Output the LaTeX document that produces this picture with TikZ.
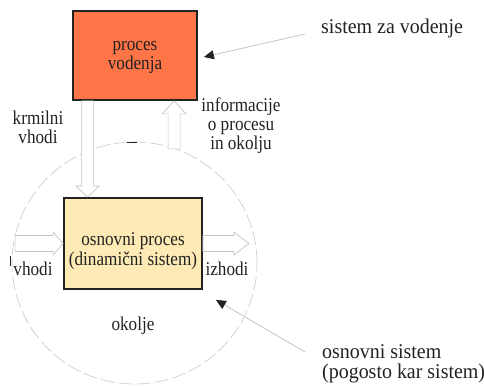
\documentclass[tikz,border=0pt]{standalone}
\usepackage{fontspec}
\setmainfont{Liberation Serif}[FakeStretch=0.88]
\newfontfamily\captionserif{Liberation Serif}[FakeStretch=0.95]
\usetikzlibrary{calc,arrows.meta}
\definecolor{vodfill}{HTML}{FF7547}
\definecolor{procfill}{HTML}{FDEAB4}
\definecolor{ink}{HTML}{222222}
\definecolor{flowgray}{HTML}{C4C4C4}
\definecolor{pointgray}{HTML}{BDBDBD}
\definecolor{ringgray}{HTML}{C8C8C8}

\begin{document}
\begin{tikzpicture}[x=1pt,y=-1pt,
  block/.style={draw=ink, line width=1.8pt, inner sep=0pt},
  % multi-line texts are placed by the baseline of their last line
  smalltext/.style={inner sep=0pt, align=center, anchor=base,
    font=\fontsize{19.5}{19}\selectfont, text=ink},
  bigtext/.style={inner sep=0pt, align=left, anchor=base west,
    font=\captionserif\fontsize{21}{20}\selectfont, text=ink},
  hollow/.style={draw=flowgray, line width=0.7pt, fill=white, line join=miter},
  pointer/.style={draw=pointgray, line width=0.7pt,
    -{Triangle[length=10pt,width=9pt,color=ink]}},
  ring/.style={draw=ringgray, line width=0.6pt, dash pattern=on 14pt off 4pt},
  mark line/.style={draw=ink, line width=0.8pt},
]
\useasboundingbox (0,0) rectangle (484,387);

% environment boundary around the basic system
\draw[ring] (134.5,263) ellipse [x radius=122.5pt, y radius=121pt];

% the two blocks
\node[block, fill=vodfill, minimum width=124pt, minimum height=89pt] (pv) at (135,55.5) {};
\node[block, fill=procfill, minimum width=138pt, minimum height=91pt] (op) at (133,243.5) {};
\node[smalltext] (pvt) at (135,70) {proces\\vodenja};
\node[smalltext] (opt) at (133,265) {osnovni proces\\(dinamični sistem)};

% end points of the hollow flow arrows
\coordinate (kA) at ($(pv.south west)+(15.5,0)$);
\coordinate (kB) at (kA |- op.north);
\coordinate (uB) at ($(pv.south west)+(102,0)$);
\coordinate (uA) at ($(uB)+(0,48)$);
\coordinate (lB) at (op.west);
\coordinate (lA) at ($(lB)+(-48,0)$);
\coordinate (rA) at (op.east);
\coordinate (rB) at ($(rA)+(46,0)$);

% control inputs: down into the process
\draw[hollow] ($(kA)+(-6,0)$) -- ($(kB)+(-6,-11)$) -- ($(kB)+(-11.5,-11)$) -- (kB)
  -- ($(kB)+(11.5,-11)$) -- ($(kB)+(6,-11)$) -- ($(kA)+(6,0)$) -- cycle;
% process information: up into the controller
\draw[hollow] ($(uA)+(-6,0)$) -- ($(uB)+(-6,13)$) -- ($(uB)+(-12,13)$) -- (uB)
  -- ($(uB)+(12,13)$) -- ($(uB)+(6,13)$) -- ($(uA)+(6,0)$) -- cycle;
% inputs
\draw[hollow] ($(lA)+(0,-8)$) -- ($(lB)+(-10,-8)$) -- ($(lB)+(-10,-11.5)$) -- (lB)
  -- ($(lB)+(-10,11.5)$) -- ($(lB)+(-10,8)$) -- ($(lA)+(0,8)$) -- cycle;
% outputs
\draw[hollow] ($(rA)+(0,-8)$) -- ($(rB)+(-15,-8)$) -- ($(rB)+(-15,-11.5)$) -- (rB)
  -- ($(rB)+(-15,11.5)$) -- ($(rB)+(-15,8)$) -- ($(rA)+(0,8)$) -- cycle;

% labels
\node[smalltext] (kv) at (38,144) {krmilni\\vhodi};
\node[smalltext] (info) at (241,150) {informacije\\o procesu\\in okolju};
\node[smalltext] (vh) at (33,275) {vhodi};
\node[smalltext] (iz) at (227,275) {izhodi};
\node[smalltext] (ok) at (133,330) {okolje};
\node[bigtext] (sz) at (321,34) {sistem za vodenje};
\node[bigtext] (os) at (322,378) {osnovni sistem\\(pogosto kar sistem)};

% pointers from the captions
\draw[pointer] ($(sz.base west)+(-16,0)$) -- ($(pv.east)+(6,1.5)$);
\draw[pointer] ($(os.base west)+(-17,-26)$) -- ($(op.south east)+(13,10)$);

% small stray marks
\coordinate (m1) at (10,256);
\coordinate (m2) at (10,266);
\coordinate (m3) at (127,142);
\coordinate (m4) at (137,142);
\draw[mark line] (m1) -- (m2);
\draw[mark line] (m3) -- (m4);
\end{tikzpicture}
\end{document}
